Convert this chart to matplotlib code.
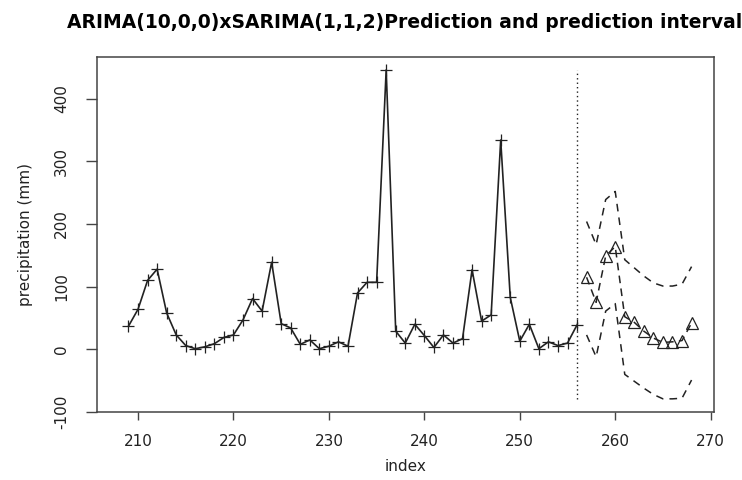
import numpy as np
import matplotlib
matplotlib.use("Agg")
import matplotlib.pyplot as plt

# observed monthly precipitation, index 209..256
obs_index = np.arange(209, 257)
obs_precip = [37, 64, 110, 128, 58, 23, 6, 1, 4, 9, 19, 23,
              47, 81, 61, 139, 41, 34, 8, 15, 1, 5, 12, 5,
              90, 107, 107, 446, 29, 10, 40, 22, 3, 23, 10, 17,
              127, 45, 55, 334, 83, 13, 40, 1, 12, 6, 10, 39]

# 12-step forecast and prediction interval, index 257..268
fc_index = np.arange(257, 269)
fc_mean = [115, 75, 149, 164, 52, 43, 29, 18, 11, 12, 14, 42]
fc_upper = [204, 167, 239, 252, 143, 130, 117, 106, 101, 101, 104, 132]
fc_lower = [23, -12, 61, 73, -40, -51, -62, -72, -79, -79, -78, -49]

split_at = 256
INK = "#222222"

fig = plt.figure(figsize=(7.42, 4.8), dpi=100)
ax = fig.add_axes([97 / 742, 1 - 412 / 480, (714 - 97) / 742, (412 - 56.7) / 480])

ax.plot(obs_index, obs_precip, color=INK, lw=1.2, marker="+", ms=9, mew=0.9)
ax.plot(fc_index, fc_mean, color=INK, lw=1.1, dashes=(5, 3.5),
        marker="^", ms=8, mfc="none", mew=0.9)
ax.plot(fc_index, fc_upper, color=INK, lw=1.1, dashes=(5, 4))
ax.plot(fc_index, fc_lower, color=INK, lw=1.1, dashes=(5, 4))
ax.vlines(split_at, min(fc_lower), max(obs_precip), colors=INK, lw=1.0,
          linestyles=(0, (1, 2.2)))

ax.set_xlim(205.7, 270.35)
ax.set_ylim(-100, 467)
ax.set_xticks(np.arange(210, 271, 10))
ax.set_yticks(np.arange(-100, 401, 100))
ax.set_yticklabels([str(v) for v in range(-100, 401, 100)], rotation=90, va="center")

for sp in ax.spines.values():
    sp.set_color("#444444")
    sp.set_linewidth(1.1)
ax.tick_params(axis="x", length=6, width=1.0, color="#444444", pad=10,
               labelsize=11, labelcolor=INK)
ax.tick_params(axis="y", length=8, width=1.0, color="#444444", pad=12,
               labelsize=11, labelcolor=INK)

ax.set_xlabel("index", fontsize=11, color=INK, labelpad=7)
ax.set_ylabel("precipitation (mm)", fontsize=11, color=INK, labelpad=15)
fig.text(405 / 742, 1 - 23 / 480, "ARIMA(10,0,0)xSARIMA(1,1,2)Prediction and prediction interval",
         ha="center", va="center", fontsize=13.5, weight="bold", color="black")

fig.savefig("out.png", dpi=100, facecolor="white")
